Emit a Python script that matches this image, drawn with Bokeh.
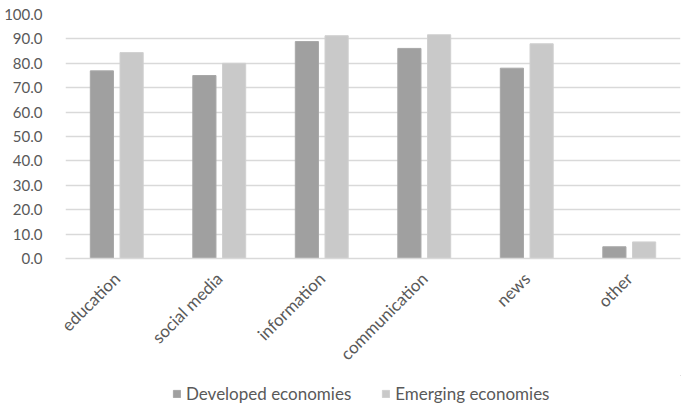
from bokeh.plotting import figure
from bokeh.models import ColumnDataSource, FactorRange, Legend, LegendItem
from bokeh.layouts import column
from bokeh.transform import dodge
from bokeh.embed import file_html
from bokeh.resources import INLINE
import math

categories = ["education", "social media", "information", "communication", "news", "other"]
developed = [76.9, 75.0, 88.9, 86.1, 78.0, 4.8]
emerging = [84.4, 80.0, 91.3, 91.7, 88.0, 6.8]
series_names = ["Developed economies", "Emerging economies"]
y_ticks = [0, 10, 20, 30, 40, 50, 60, 70, 80, 90, 100]
colors = ["#a0a0a0", "#c9c9c9"]
edges = ["#a8a8a8", "#d0d0d0"]

source = ColumnDataSource(dict(cat=categories, dev=developed, emg=emerging))

FONT = "Lato"
TXT = "#595959"

p = figure(x_range=FactorRange(*categories), y_range=(0, 100),
           width=686, height=375, output_backend="svg", toolbar_location=None,
           min_border_left=65, min_border_right=6, min_border_top=14, min_border_bottom=117)
p.outline_line_color = None
p.background_fill_color = "white"

p.vbar(x=dodge("cat", -0.145, range=p.x_range), top="dev", width=0.226, source=source,
       fill_color=colors[0], line_color=edges[0], line_width=1)
p.vbar(x=dodge("cat", 0.145, range=p.x_range), top="emg", width=0.226, source=source,
       fill_color=colors[1], line_color=edges[1], line_width=1)

p.yaxis.ticker = y_ticks
p.yaxis.major_label_overrides = {t: f"{t:.1f}" for t in y_ticks}
p.yaxis.axis_line_color = None
p.yaxis.major_tick_line_color = None
p.yaxis.minor_tick_line_color = None
p.yaxis.major_label_text_font = FONT
p.yaxis.major_label_text_font_size = "15px"
p.yaxis.major_label_text_color = TXT
p.yaxis.major_label_standoff = 17

p.xaxis.axis_line_color = "#d9d9d9"
p.xaxis.axis_line_width = 1.5
p.xaxis.major_tick_line_color = None
p.xaxis.minor_tick_line_color = None
p.xaxis.major_label_orientation = math.pi / 4
p.xaxis.major_label_text_font = FONT
p.xaxis.major_label_text_font_size = "17px"
p.xaxis.major_label_text_color = TXT
p.xaxis.major_label_standoff = 11

p.xgrid.grid_line_color = None
p.ygrid.grid_line_color = "#d9d9d9"
p.ygrid.grid_line_width = 1.5

# legend strip below the chart (swatch renderers sit outside its visible range)
lg = figure(width=686, height=35, output_backend="svg", toolbar_location=None,
            x_axis_type=None, y_axis_type=None, x_range=(0, 1), y_range=(0, 1),
            min_border=0)
lg.outline_line_color = None
lg.grid.visible = False
d1 = lg.vbar(x=[5], top=[5], bottom=[4], width=0.1, fill_color=colors[0], line_color=edges[0])
d2 = lg.vbar(x=[5], top=[5], bottom=[4], width=0.1, fill_color=colors[1], line_color=edges[1])
legend = Legend(items=[LegendItem(label=series_names[0], renderers=[d1]),
                       LegendItem(label=series_names[1], renderers=[d2])],
                orientation="horizontal", location=(107, 6),
                glyph_width=9, glyph_height=9, label_standoff=5, spacing=30,
                padding=0, margin=0, border_line_color=None, background_fill_alpha=0,
                label_text_font=FONT, label_text_font_size="17px", label_text_color=TXT)
lg.add_layout(legend, "center")

layout = column(p, lg, spacing=0)
open("out.html", "w").write(file_html(layout, INLINE))
